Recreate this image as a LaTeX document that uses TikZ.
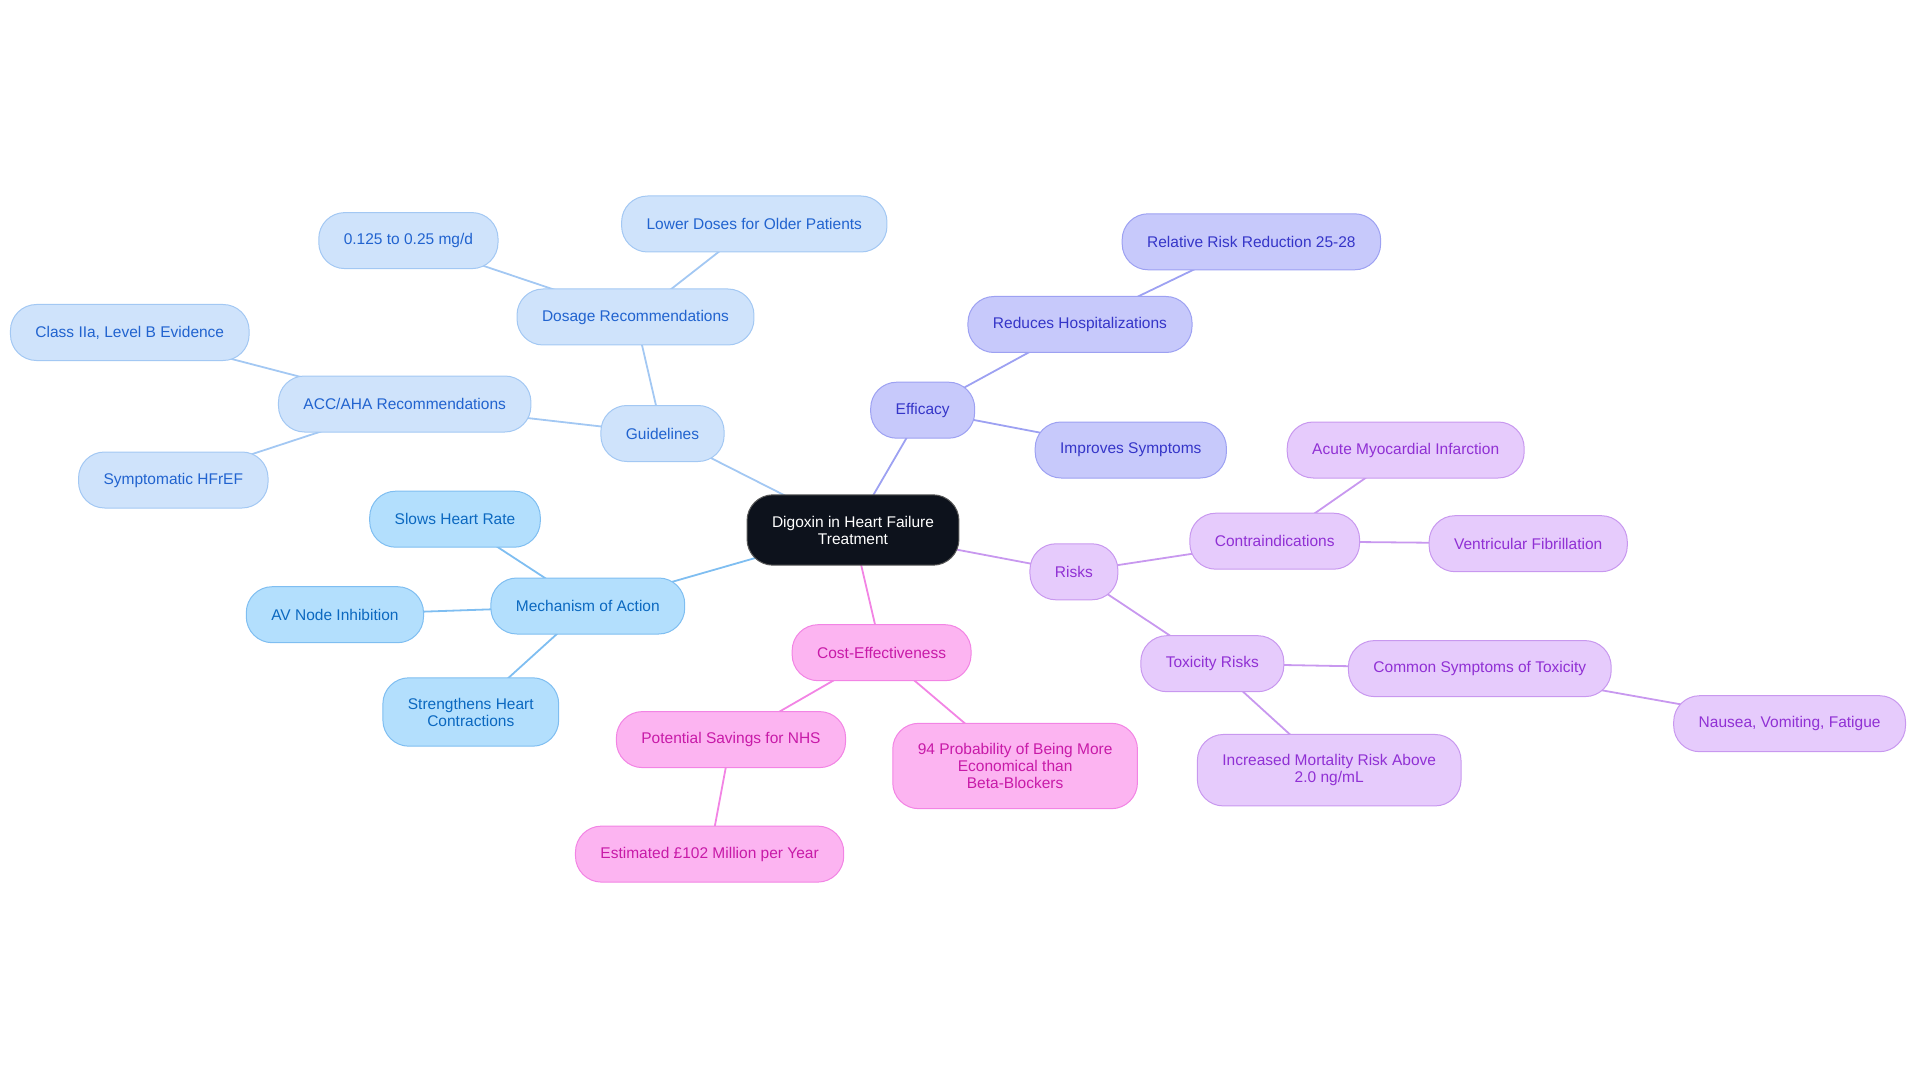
\documentclass[tikz,border=0pt]{standalone}
\usepackage{fontspec}
\setmainfont{Liberation Sans}
\pgfdeclarelayer{bg}
\pgfsetlayers{bg,main}
\definecolor{glF}{HTML}{CFE3FB}\definecolor{glD}{HTML}{A3C8F3}\definecolor{glT}{HTML}{2163CF}
\definecolor{meF}{HTML}{B3DFFD}\definecolor{meD}{HTML}{7FBEF1}\definecolor{meT}{HTML}{0B68C0}
\definecolor{efF}{HTML}{C7C9FB}\definecolor{efD}{HTML}{9DA1F2}\definecolor{efT}{HTML}{3535C8}
\definecolor{riF}{HTML}{E6CBFC}\definecolor{riD}{HTML}{C898EF}\definecolor{riT}{HTML}{9030D4}
\definecolor{coF}{HTML}{FCB4F1}\definecolor{coD}{HTML}{F284E4}\definecolor{coT}{HTML}{C81AA8}
\definecolor{ceF}{HTML}{0D121C}
\begin{document}
\begin{tikzpicture}[x=1pt,y=-1pt,
  mm/.style={rounded corners=26pt, draw, line width=1pt, minimum height=56pt,
    inner xsep=25pt, inner ysep=20pt, align=center,
    font=\fontsize{15.5}{17}\selectfont},
  gl/.style={mm, fill=glF, draw=glD, text=glT},
  me/.style={mm, fill=meF, draw=meD, text=meT},
  ef/.style={mm, fill=efF, draw=efD, text=efT},
  ri/.style={mm, fill=riF, draw=riD, text=riT},
  co/.style={mm, fill=coF, draw=coD, text=coT},
  ce/.style={mm, fill=ceF, draw=gray!70!black, text=white, inner ysep=21pt},
  eg/.style={line width=1.8pt, draw=glD},
  em/.style={line width=1.8pt, draw=meD},
  ee/.style={line width=1.8pt, draw=efD},
  er/.style={line width=1.8pt, draw=riD},
  ec/.style={line width=1.8pt, draw=coD}]
\useasboundingbox (0,0) rectangle (1920,1083);
\node[ce] (c) at (853,530) {Digoxin in Heart Failure\\Treatment};
% Guidelines
\node[gl] (gl) at (662.5,433.5) {Guidelines};
\node[gl] (dos) at (635.5,317) {Dosage Recommendations};
\node[gl] (d1) at (408.4,240.6) {0.125 to 0.25 mg/d};
\node[gl] (d2) at (754.3,224) {Lower Doses for Older Patients};
\node[gl] (acc) at (404.7,404) {ACC/AHA Recommendations};
\node[gl] (cls) at (129.8,332.5) {Class IIa, Level B Evidence};
\node[gl] (sym) at (173.3,480) {Symptomatic HFrEF};
% Mechanism
\node[me] (mech) at (587.8,606) {Mechanism of Action};
\node[me] (slow) at (455,519.2) {Slows Heart Rate};
\node[me] (av) at (334.9,614.7) {AV Node Inhibition};
\node[me] (str) at (470.8,712) {Strengthens Heart\\Contractions};
% Efficacy
\node[ef] (eff) at (922.7,410.2) {Efficacy};
\node[ef] (red) at (1080,324.5) {Reduces Hospitalizations};
\node[ef] (rrr) at (1251.4,241.8) {Relative Risk Reduction 25-28};
\node[ef] (imp) at (1130.8,450) {Improves Symptoms};
% Risks
\node[ri] (risk) at (1073.9,571.8) {Risks};
\node[ri] (con) at (1274.7,541.2) {Contraindications};
\node[ri] (ami) at (1405.7,450) {Acute Myocardial Infarction};
\node[ri] (vf) at (1528.2,543.7) {Ventricular Fibrillation};
\node[ri] (tox) at (1212.3,663.7) {Toxicity Risks};
\node[ri] (com) at (1479.8,668.6) {Common Symptoms of Toxicity};
\node[ri] (nau) at (1789.6,723.7) {Nausea, Vomiting, Fatigue};
\node[ri] (mort) at (1329.2,770.2) {Increased Mortality Risk Above\\2.0 ng/mL};
% Cost
\node[co] (cost) at (881.6,652.7) {Cost-Effectiveness};
\node[co] (pot) at (731,739.6) {Potential Savings for NHS};
\node[co] (est) at (709.6,854.1) {Estimated £102 Million per Year};
\node[co] (p94) at (1015.1,766) {94 Probability of Being More\\Economical than\\Beta-Blockers};
\begin{pgfonlayer}{bg}
\draw[eg] (c.center) -- (gl.center);
\draw[eg] (gl.center) -- (dos.center);
\draw[eg] (dos.center) -- (d1.center);
\draw[eg] (dos.center) -- (d2.center);
\draw[eg] (gl.center) -- (acc.center);
\draw[eg] (acc.center) -- (cls.center);
\draw[eg] (acc.center) -- (sym.center);
\draw[em] (c.center) -- (mech.center);
\draw[em] (mech.center) -- (slow.center);
\draw[em] (mech.center) -- (av.center);
\draw[em] (mech.center) -- (str.center);
\draw[ee] (c.center) -- (eff.center);
\draw[ee] (eff.center) -- (red.center);
\draw[ee] (red.center) -- (rrr.center);
\draw[ee] (eff.center) -- (imp.center);
\draw[er] (c.center) -- (risk.center);
\draw[er] (risk.center) -- (con.center);
\draw[er] (con.center) -- (ami.center);
\draw[er] (con.center) -- (vf.center);
\draw[er] (risk.center) -- (tox.center);
\draw[er] (tox.center) -- (com.center);
\draw[er] (com.center) -- (nau.center);
\draw[er] (tox.center) -- (mort.center);
\draw[ec] (c.center) -- (cost.center);
\draw[ec] (cost.center) -- (pot.center);
\draw[ec] (pot.center) -- (est.center);
\draw[ec] (cost.center) -- (p94.center);
\end{pgfonlayer}
\end{tikzpicture}
\end{document}
